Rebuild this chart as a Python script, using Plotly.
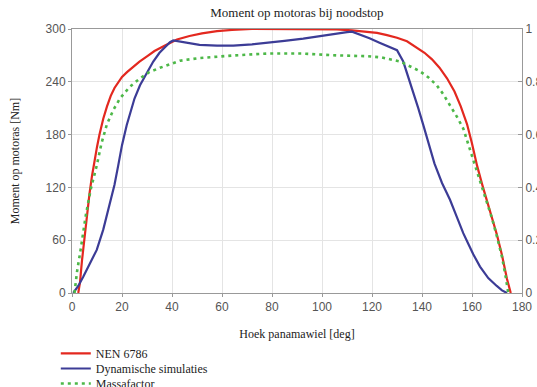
import plotly.graph_objects as go

# NEN 6786 (Moment [Nm])
nen_x = [2.5, 3.2, 4, 5, 6, 7, 8, 9, 10, 11, 12.5, 14, 15.5, 17, 18.5, 20, 22, 24, 27, 30, 33, 37, 42,
         47, 52, 58, 64, 72, 80, 90, 100, 106, 112, 118, 122, 126, 130, 134, 138, 141, 144, 147, 150,
         153, 155.5, 158, 160, 162, 164, 166, 168, 170, 172, 174, 175.5]
nen_y = [0, 12, 37, 65, 92, 113, 133, 151, 166, 180, 198, 212, 224, 233, 240, 245.5, 251, 256, 263,
         269, 275, 281, 288, 292, 295, 297.5, 299, 300, 300, 300, 300, 299.5, 298.5, 297, 295.5, 293,
         290, 286, 279, 273, 265.5, 256, 244, 229, 212, 192, 170, 145, 124, 105, 87, 66, 43, 16, 0]

# Dynamische simulaties (Moment [Nm])
dyn_x = [0.5, 2.5, 4.5, 7, 9.9, 12.5, 15.2, 17, 18.5, 20, 21.9, 23.5, 25, 27.2, 30, 32.5, 35, 37.5,
         39.2, 40.5, 45, 51, 58, 64.5, 72, 78, 85, 92.5, 99, 106, 110, 112, 116, 119, 123, 127, 130,
         132.5, 134.5, 136.5, 138.5, 140.5, 142.8, 145, 148, 151.2, 154, 156.5, 158.5, 160.5, 163.2,
         166.5, 169.9, 172, 174]
dyn_y = [0, 8, 18.5, 32, 49, 72, 102, 123, 145, 168, 191, 208, 221, 236, 251, 263, 273, 280,
         285, 287, 284.5, 282, 281, 281, 282.5, 284, 286.5, 289, 292, 295, 296.5, 297, 293, 289.5,
         284.5, 280, 276, 263, 246, 229, 210, 191, 168, 147, 125, 106, 86, 68, 56, 44, 30,
         17, 8, 3, 0]

# Massafactor (right axis, 0..1)
mf_x = [1.0, 2.0, 3.5, 5.5, 7.5, 9.9, 11.8, 13.9, 16.5, 19.2, 23, 27.2, 31, 35.2, 43.2, 51, 65, 78,
        92, 106, 118, 124, 131.2, 135, 139.2, 142.5, 145.9, 148.5, 151.2, 154, 156.5, 158.3, 160,
        162, 164, 166, 168, 170, 172, 173.5, 174.5]
mf_y = [0, .08, .167, .293, .393, .483, .567, .637, .693, .737, .78, .813, .837, .853, .88, .89, .9,
        .907, .907, .9, .897, .892, .877, .86, .84, .817, .787, .753, .713, .667, .623, .57, .517,
        .46, .4, .34, .283, .213, .137, .06, 0]

left_ticks = [0, 60, 120, 180, 240, 300]
right_ticks = [0, 0.2, 0.4, 0.6, 0.8, 1]
right_labels = ["0", "0.2", "0.4", "0.6", "0.8", "1"]
x_ticks = [0, 20, 40, 60, 80, 100, 120, 140, 160, 180]

serif = "Liberation Serif, Times New Roman, serif"
sans = "Liberation Sans, Arial, sans-serif"

fig = go.Figure()
fig.add_trace(go.Scatter(x=nen_x, y=nen_y, mode="lines", name="NEN 6786", legend="legend",
                         line=dict(color="#e3281f", width=2.2)))
fig.add_trace(go.Scatter(x=dyn_x, y=dyn_y, mode="lines", name="Dynamische simulaties",
                         legend="legend2", line=dict(color="#3c3c96", width=2.2)))
fig.add_trace(go.Scatter(x=mf_x, y=mf_y, mode="lines", name="Massafactor", yaxis="y2",
                         legend="legend3",
                         line=dict(color="#4db848", width=2.6, dash="3px,4px")))

leg_common = dict(x=-0.036, xanchor="left", yanchor="top", orientation="v",
                  font=dict(family=serif, size=12, color="#222"), bgcolor="rgba(0,0,0,0)",
                  itemwidth=30)

fig.update_layout(
    width=537, height=387,
    margin=dict(l=72, r=15, t=29, b=94, autoexpand=False),
    paper_bgcolor="white", plot_bgcolor="white",
    title=dict(text="Moment op motoras bij noodstop", x=0.553, xanchor="center", y=0.968,
               yanchor="middle", automargin=False,
               font=dict(family=serif, size=13, color="#222")),
    xaxis=dict(range=[0, 180], tickvals=x_ticks, showgrid=True, gridcolor="#e4e4e4",
               showline=True, linecolor="#999", linewidth=1, mirror=True, zeroline=False,
               ticks="outside", ticklen=3, tickcolor="#999", automargin=False,
               tickfont=dict(family=sans, size=12, color="#555"),
               title=dict(text="Hoek panamawiel [deg]", standoff=16,
                          font=dict(family=serif, size=12, color="#222"))),
    yaxis=dict(range=[0, 300], tickvals=left_ticks, showgrid=True, gridcolor="#e4e4e4",
               showline=True, linecolor="#999", linewidth=1, mirror=True, zeroline=False,
               ticks="outside", ticklen=3, tickcolor="#999", automargin=False,
               tickfont=dict(family=sans, size=12, color="#555"),
               title=dict(text="Moment op motoras [Nm]", standoff=23,
                          font=dict(family=serif, size=12, color="#222"))),
    yaxis2=dict(range=[0, 1], tickvals=right_ticks, ticktext=right_labels, overlaying="y",
                side="right", showgrid=False, zeroline=False, showline=True, linecolor="#999",
                ticks="inside", ticklen=4, tickcolor="#999", automargin=False,
                tickfont=dict(family=sans, size=12, color="#555")),
    legend=dict(y=-0.174, **leg_common),
    legend2=dict(y=-0.231, **leg_common),
    legend3=dict(y=-0.288, **leg_common),
    showlegend=True,
    hovermode=False,
)

fig.write_html("out.html", config={"displayModeBar": False},
               post_script="document.body.style.margin='0';")
